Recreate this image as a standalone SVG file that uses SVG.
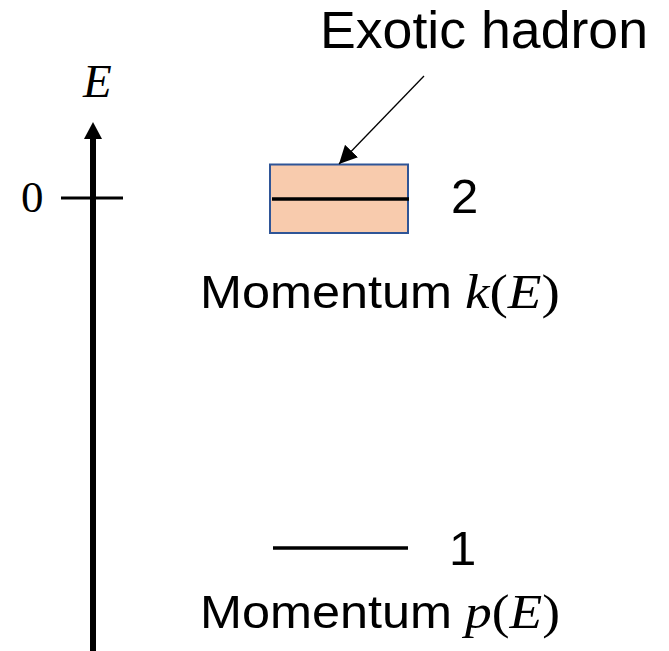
<svg xmlns="http://www.w3.org/2000/svg" width="669" height="651" viewBox="0 0 669 651">
<style>
.sans{font-family:"Liberation Sans",Arial,sans-serif;fill:#000}
.math{font-family:"Liberation Serif","DejaVu Serif",serif;fill:#000}
.it{font-style:italic}
</style>
<defs>
<marker id="thinHead" markerUnits="userSpaceOnUse" markerWidth="18" markerHeight="18" refX="16" refY="8" viewBox="0 0 16 16" orient="auto">
<path d="M0,0 L16,8 L0,16 Z" fill="#000"/>
</marker>
</defs>
<rect width="669" height="651" fill="#fff"/>
<g id="axis">
<line x1="93" y1="136" x2="93" y2="651" stroke="#000" stroke-width="6"/>
<path d="M84,139 L93,122 L102,139 Z" fill="#000"/>
<line x1="61" y1="198" x2="123" y2="198" stroke="#000" stroke-width="3"/>
<text class="math it" x="83" y="97" font-size="47">E</text>
<text class="math" x="21" y="212" font-size="45">0</text>
</g>
<g id="level2">
<rect x="270" y="164.5" width="138" height="68.5" fill="#F8CBAD" stroke="#2F5597" stroke-width="2"/>
<line x1="272" y1="199" x2="409" y2="199" stroke="#000" stroke-width="3.5"/>
<text class="sans" x="451" y="213" font-size="49">2</text>
<text class="sans" x="200" y="308" font-size="46" textLength="252" lengthAdjust="spacingAndGlyphs">Momentum</text>
<text class="math" x="465" y="308" font-size="49" textLength="95" lengthAdjust="spacingAndGlyphs"><tspan class="it">k</tspan>(<tspan class="it">E</tspan>)</text>
</g>
<g id="level1">
<line x1="273" y1="548" x2="408" y2="548" stroke="#000" stroke-width="3.5"/>
<text class="sans" x="449" y="565" font-size="49">1</text>
<text class="sans" x="200" y="628" font-size="46" textLength="252" lengthAdjust="spacingAndGlyphs">Momentum</text>
<text class="math" x="465" y="628" font-size="49" textLength="95" lengthAdjust="spacingAndGlyphs"><tspan class="it">p</tspan>(<tspan class="it">E</tspan>)</text>
</g>
<g id="label">
<text class="sans" x="320" y="48" font-size="51" textLength="328" lengthAdjust="spacingAndGlyphs">Exotic hadron</text>
</g>
<g id="connectors">
<line x1="424" y1="76" x2="339" y2="164" stroke="#000" stroke-width="1.3" marker-end="url(#thinHead)"/>
</g>
</svg>
